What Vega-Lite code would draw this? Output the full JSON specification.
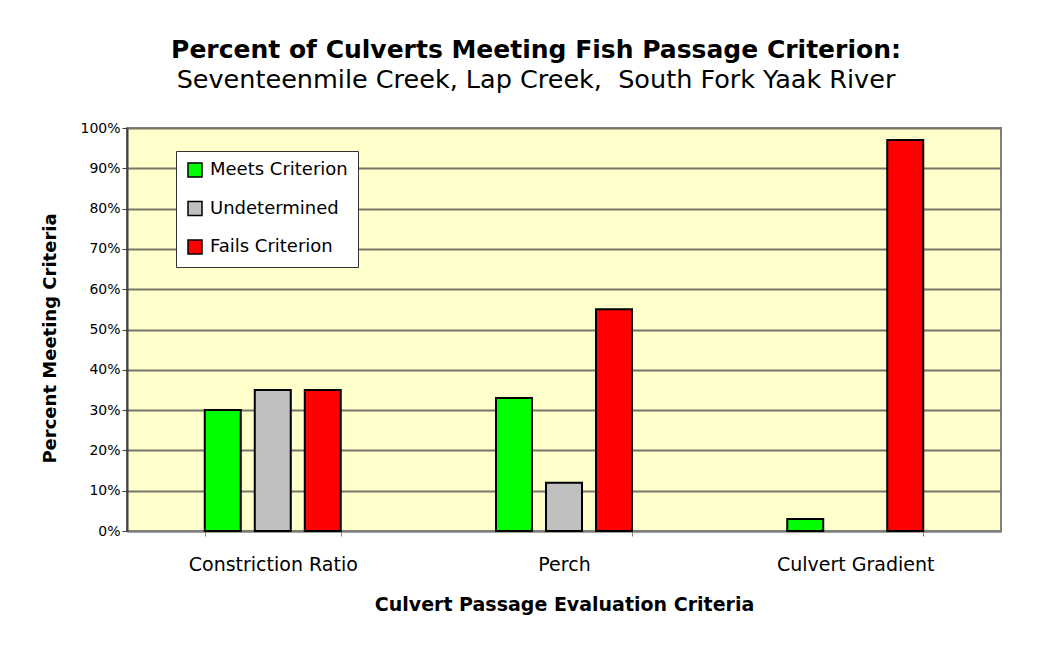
{
  "$schema": "https://vega.github.io/schema/vega-lite/v6.json",
  "autosize": "none",
  "width": 874,
  "height": 403,
  "padding": {"left": 127, "top": 128, "right": 46, "bottom": 121},
  "background": "white",
  "title": {
    "text": "Percent of Culverts Meeting Fish Passage Criterion:",
    "subtitle": "Seventeenmile Creek, Lap Creek,\u00a0 South Fork Yaak River",
    "font": "DejaVu Sans",
    "fontSize": 25,
    "fontWeight": "bold",
    "color": "black",
    "subtitleFont": "DejaVu Sans",
    "subtitleFontSize": 25.5,
    "subtitleColor": "black",
    "subtitlePadding": 5,
    "anchor": "middle",
    "dx": -28,
    "offset": 28
  },
  "data": {
    "values": [
      {"criterion": "Constriction Ratio", "status": "Meets Criterion", "pct": 0.30},
      {"criterion": "Constriction Ratio", "status": "Undetermined", "pct": 0.35},
      {"criterion": "Constriction Ratio", "status": "Fails Criterion", "pct": 0.35},
      {"criterion": "Perch", "status": "Meets Criterion", "pct": 0.33},
      {"criterion": "Perch", "status": "Undetermined", "pct": 0.12},
      {"criterion": "Perch", "status": "Fails Criterion", "pct": 0.55},
      {"criterion": "Culvert Gradient", "status": "Meets Criterion", "pct": 0.03},
      {"criterion": "Culvert Gradient", "status": "Fails Criterion", "pct": 0.97}
    ]
  },
  "mark": {"type": "bar", "stroke": "black", "strokeWidth": 2},
  "encoding": {
    "x": {
      "field": "criterion",
      "type": "nominal",
      "sort": ["Constriction Ratio", "Perch", "Culvert Gradient"],
      "scale": {"paddingInner": 0.533, "paddingOuter": 0.267},
      "axis": {
        "title": "Culvert Passage Evaluation Criteria",
        "titleFont": "DejaVu Sans",
        "titleFontSize": 19,
        "titleFontWeight": "bold",
        "titleColor": "black",
        "titlePadding": 21,
        "labelFont": "DejaVu Sans",
        "labelFontSize": 19,
        "labelColor": "black",
        "labelAngle": 0,
        "labelPadding": 19,
        "tickBand": "extent",
        "tickSize": 5,
        "tickColor": "#808080",
        "domainColor": "#808080",
        "domainWidth": 2,
        "grid": false
      }
    },
    "xOffset": {
      "field": "status",
      "type": "nominal",
      "sort": ["Meets Criterion", "Undetermined", "Fails Criterion"],
      "scale": {"paddingInner": 0.28, "paddingOuter": 0}
    },
    "y": {
      "field": "pct",
      "type": "quantitative",
      "scale": {"domain": [0, 1], "nice": false},
      "axis": {
        "title": "Percent Meeting Criteria",
        "titleFont": "DejaVu Sans",
        "titleFontSize": 18,
        "titleFontWeight": "bold",
        "titleColor": "black",
        "titlePadding": 20,
        "titleY": 210,
        "format": ".0%",
        "values": [0, 0.1, 0.2, 0.3, 0.4, 0.5, 0.6, 0.7, 0.8, 0.9, 1.0],
        "labelFont": "DejaVu Sans",
        "labelFontSize": 14,
        "labelColor": "black",
        "labelPadding": 2,
        "tickSize": 5,
        "tickColor": "#404040",
        "domainColor": "#404040",
        "domainWidth": 2,
        "grid": true,
        "gridColor": "#77776a",
        "gridWidth": 2
      }
    },
    "color": {
      "field": "status",
      "type": "nominal",
      "sort": ["Meets Criterion", "Undetermined", "Fails Criterion"],
      "scale": {
        "domain": ["Meets Criterion", "Undetermined", "Fails Criterion"],
        "range": ["#00FF00", "#C0C0C0", "#FF0000"]
      },
      "legend": {
        "title": null,
        "orient": "none",
        "legendX": 49,
        "legendY": 23,
        "fillColor": "white",
        "strokeColor": "#333333",
        "padding": 10,
        "rowPadding": 18.5,
        "symbolType": "square",
        "symbolSize": 196,
        "symbolStrokeColor": "black",
        "symbolStrokeWidth": 1.5,
        "symbolOpacity": 1,
        "labelFont": "DejaVu Sans",
        "labelFontSize": 18,
        "labelColor": "black",
        "labelOffset": 6
      }
    }
  },
  "config": {
    "view": {"fill": "#FFFFCC", "stroke": "#808080", "strokeWidth": 2}
  }
}
